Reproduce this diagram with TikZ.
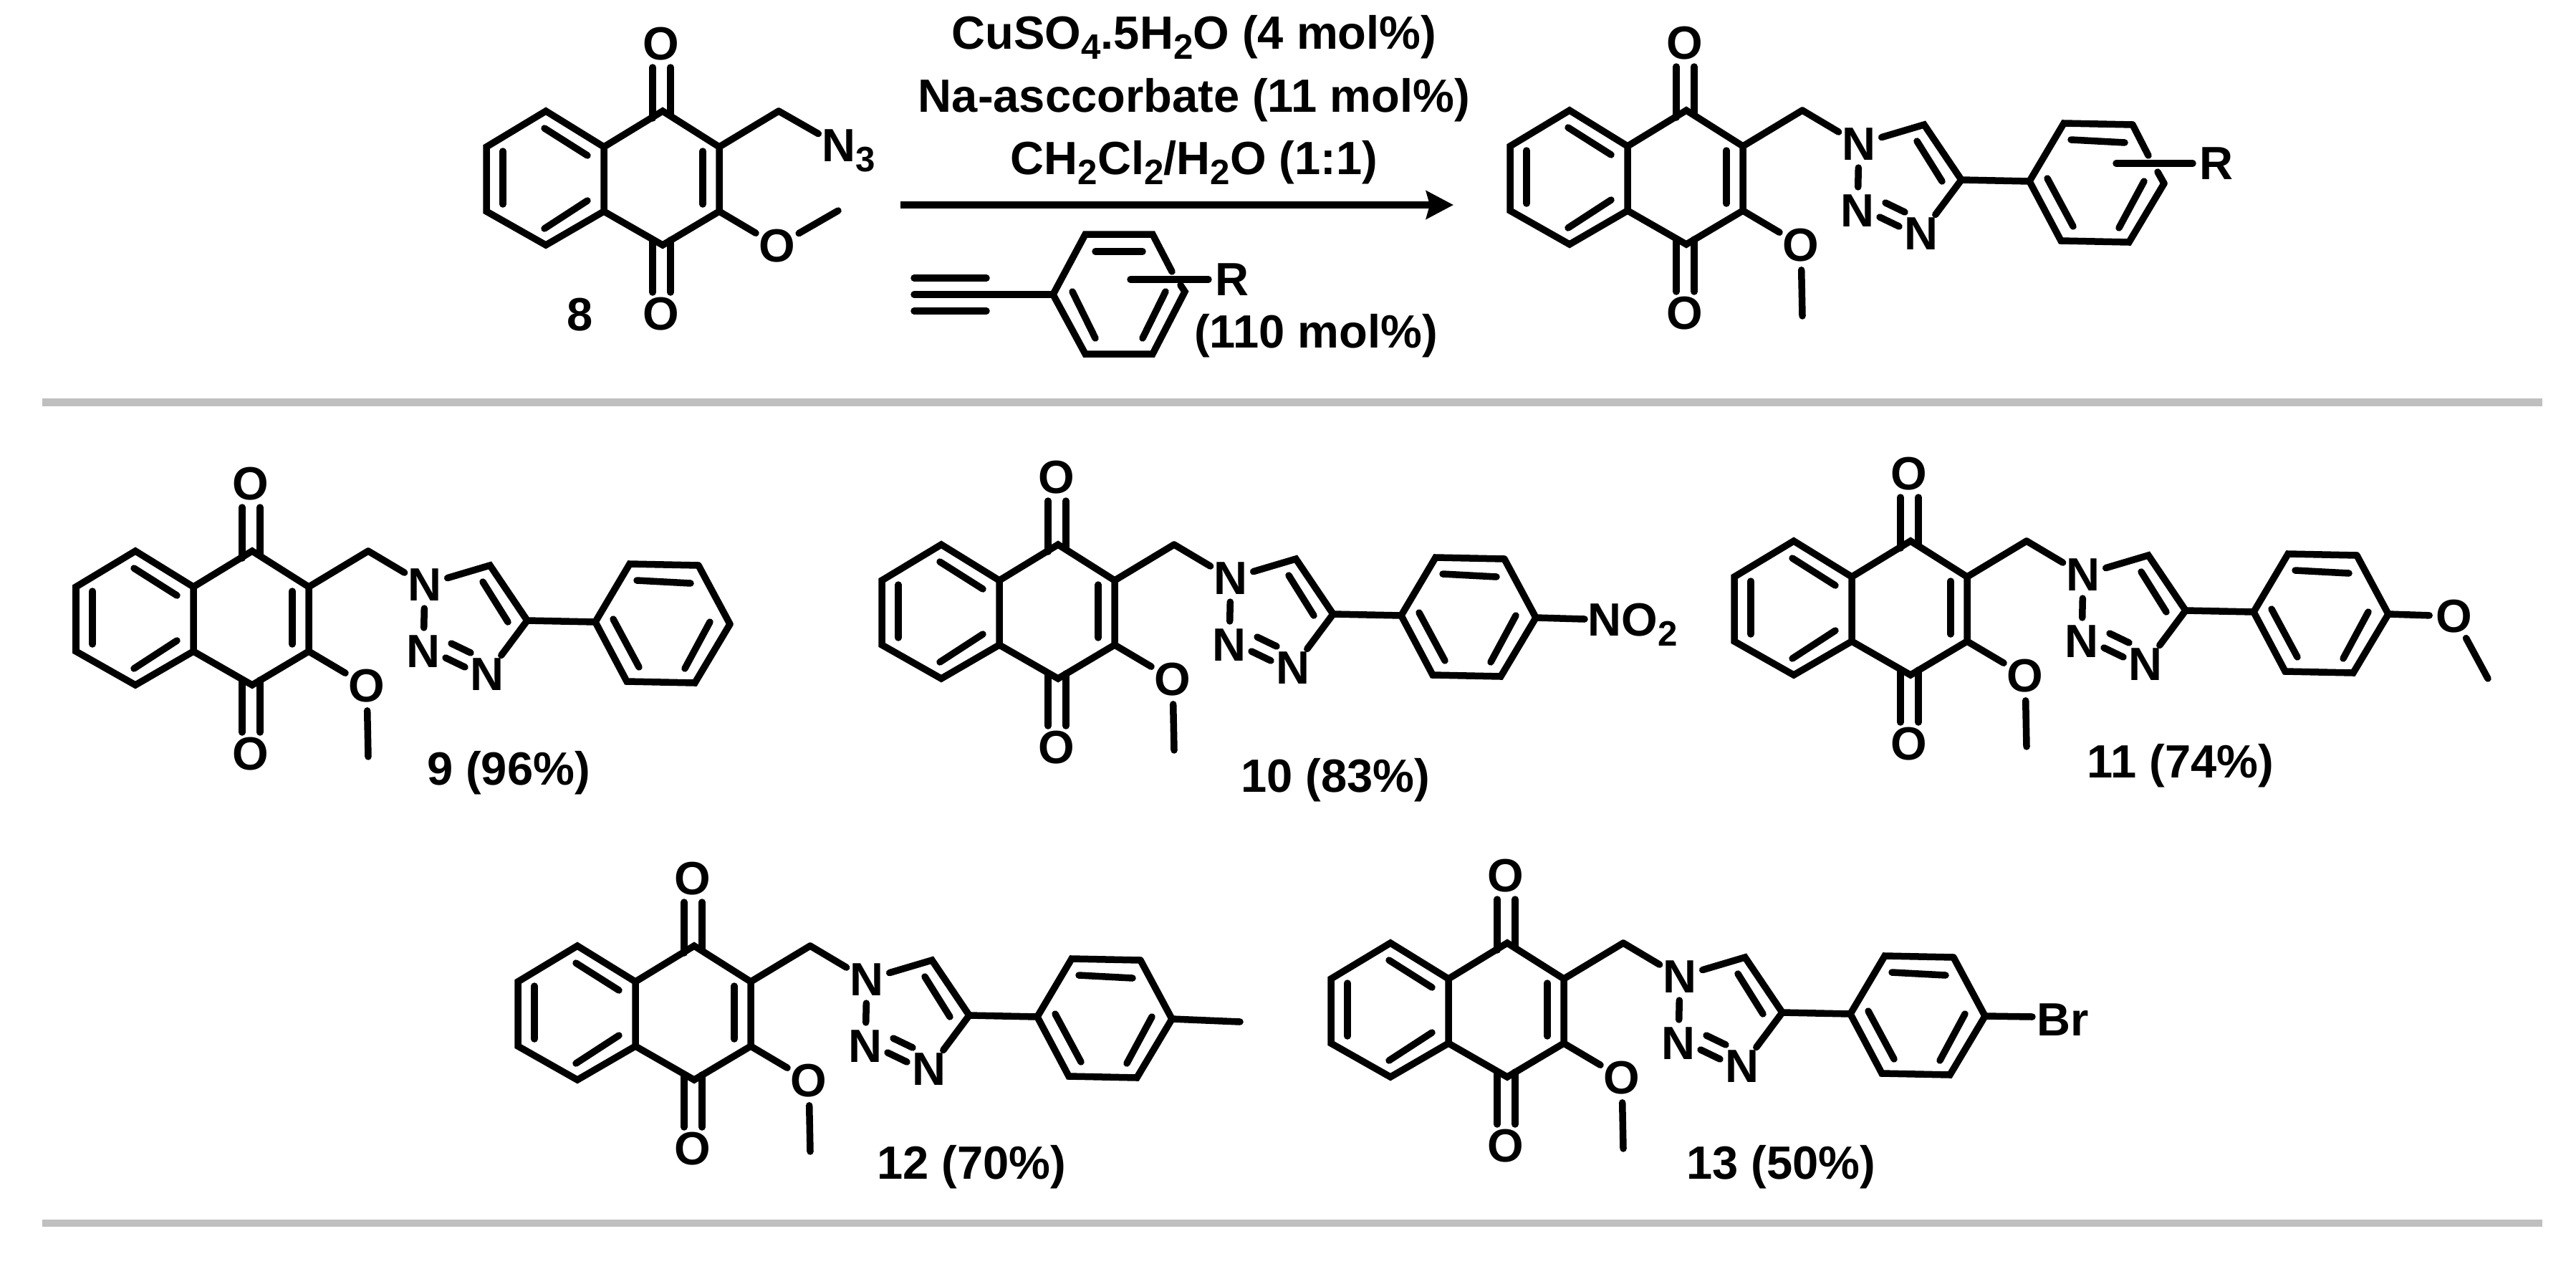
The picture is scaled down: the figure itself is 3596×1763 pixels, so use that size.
\documentclass[tikz,border=0pt]{standalone}
\usepackage{fontspec}
\setmainfont{Liberation Sans}
\usetikzlibrary{arrows.meta}
\newcommand{\sbs}[1]{\smash{\raisebox{-0.22em}{\fontsize{14}{16}\selectfont #1}}}
\newcommand{\nqbody}{%
  \coordinate (c1) at (2354,154); \coordinate (c2) at (2433,204);
  \coordinate (c3) at (2433,294); \coordinate (c4) at (2354,341);
  \coordinate (c4a) at (2272,294); \coordinate (c8a) at (2272,204);
  \coordinate (b1) at (2191,154); \coordinate (b2) at (2108,204);
  \coordinate (b3) at (2108,294); \coordinate (b4) at (2191,341);
  \coordinate (ch) at (2516,154);
  \node[atom] (ot) at (2352,60) {O};
  \node[atom] (ob) at (2352,437) {O};
  \node[atom] (om) at (2514,342) {O};
  \draw[bond] (c8a) -- (b1) -- (b2) -- (b3) -- (b4) -- (c4a) -- cycle;
  \draw[bond] (c8a) -- (c1) -- (c2) -- (c3) -- (c4) -- (c4a);
  \draw[inner] (2131,210) -- (2131,284);
  \draw[inner] (2189,178) -- (2249,216);
  \draw[inner] (2249,279) -- (2189,318);
  \draw[inner] (2410,210) -- (2410,284);
  \draw[inner] (2340,93) -- (2340,164);
  \draw[inner] (2365,93) -- (2365,160);
  \draw[inner] (2340,334) -- (2340,407);
  \draw[inner] (2365,334) -- (2365,407);
  \draw[bond] (c2) -- (ch);
  \draw[bond] (c3) -- (om);
}
\tikzset{
  atom/.style={circle,inner sep=0pt,minimum size=0.64cm,font=\fontsize{18.5}{22}\selectfont\bfseries},
  txt/.style={inner sep=0pt,anchor=base,font=\fontsize{18.5}{22}\selectfont\bfseries},
  bond/.style={line width=0.095cm,line join=miter,line cap=round},
  inner/.style={line width=0.095cm,line cap=round},
  rulebar/.style={line width=0.105cm,draw=ruleg},
  nq/.pic={\nqbody},
  qt/.pic={%
    \nqbody
    \node[atom] (n1) at (2595,201) {N};
    \node[atom] (n2) at (2593,294) {N};
    \node[atom] (n3) at (2682,326) {N};
    \coordinate (t5) at (2686,174); \coordinate (t4) at (2738,251);
    \coordinate (p1) at (2833,253); \coordinate (p2) at (2881,172);
    \coordinate (p3) at (2977,174); \coordinate (p4) at (3021,256);
    \coordinate (p5) at (2972,338); \coordinate (p6) at (2877,336);
    \coordinate (me) at (2516,441);
    \draw[bond] (ch) -- (n1);
    \draw[bond] (n1) -- (t5) -- (t4) -- (n3);
    \draw[inner] (n1) -- (n2);
    \draw[inner] (2632,283) -- (2659,296);
    \draw[inner] (2624,303) -- (2651,316);
    \draw[inner] (2676,197) -- (2711,253);
    \draw[bond] (t4) -- (p1);
    \draw[bond] (p3) -- (p2) -- (p1) -- (p6) -- (p5) -- (p4);
    \draw[inner] (2891,195) -- (2966,199);
    \draw[inner] (2858,249) -- (2894,316);
    \draw[inner] (2993,253) -- (2958,318);
    \draw[inner] (om) -- (me);
  }
}
\definecolor{ruleg}{HTML}{BFBFBF}
\begin{document}
\begin{tikzpicture}[x=0.01cm,y=-0.01cm]
\useasboundingbox (0,0) rectangle (3596,1763);
\fill[white] (0,0) rectangle (3596,1763);

% rules
\coordinate (ra) at (59,561.5); \coordinate (rb) at (3549,561.5);
\coordinate (rc) at (59,1707); \coordinate (rd) at (3549,1707);
\draw[rulebar] (ra) -- (rb);
\draw[rulebar] (rc) -- (rd);

% compound 8
\pic (m8) at (-1429,1) {nq};
\node[atom] (m8n) at (1171,203) {N\rlap{\sbs{3}}};
\coordinate (m8me) at (1170,294);
\draw[bond] (m8ch) -- (m8n);
\draw[inner] (m8om) -- (m8me);
\node[txt] (l8) at (810,461) {8};

% reagents
\node[txt] (rea1) at (1667,68) {CuSO\sbs{4}.5H\sbs{2}O (4 mol\%)};
\node[txt] (rea2) at (1667,156) {Na-asccorbate (11 mol\%)};
\node[txt] (rea3) at (1667,243) {CH\sbs{2}Cl\sbs{2}/H\sbs{2}O (1:1)};
\coordinate (arra) at (1257,286); \coordinate (arrb) at (2029,286);
\draw[line width=0.1cm,-{Stealth[length=0.38cm,width=0.39cm,inset=0.05cm]}] (arra) -- (arrb);

% alkyne reagent
\coordinate (a1) at (1470,411); \coordinate (a2) at (1515,327); \coordinate (a3) at (1609,327);
\coordinate (a4) at (1654,407); \coordinate (a5) at (1609,494); \coordinate (a6) at (1515,494);
\coordinate (ag1) at (1636,379); \coordinate (ag2) at (1648,398);
\coordinate (ya) at (1276,388); \coordinate (yb) at (1377,388);
\coordinate (yc) at (1276,411);
\coordinate (yd) at (1276,434); \coordinate (ye) at (1377,434);
\coordinate (ar) at (1578,390);
\node[atom] (rr) at (1720,390) {R};
\draw[bond] (ag1) -- (a3) -- (a2) -- (a1) -- (a6) -- (a5) -- (a4) -- (ag2);
\draw[bond] (yc) -- (a1);
\draw[bond] (ya) -- (yb);
\draw[bond] (yd) -- (ye);
\draw[inner] (1529,351) -- (1595,351);
\draw[inner] (1497,407) -- (1529,472);
\draw[inner] (1627,407) -- (1595,472);
\draw[bond] (ar) -- (rr);
\node[txt] (rea4) at (1837,485) {(110 mol\%)};

% general product
\pic (mp) at (0,0) {qt};
\coordinate (pg1) at (2999,217); \coordinate (pg2) at (3012,240); \coordinate (pr) at (2954,228);
\node[atom] (pR) at (3094,228) {R};
\draw[bond] (mpp3) -- (pg1);
\draw[bond] (pg2) -- (mpp4);
\draw[bond] (pr) -- (pR);

% 9
\pic (ma) at (-2002,615) {qt};
\draw[bond] (map3) -- (map4);
\node[txt] (l9) at (710,1095) {9 (96\%)};

% 10
\pic (mb) at (-877,606) {qt};
\draw[bond] (mbp3) -- (mbp4);
\coordinate (nb) at (2212,864);
\draw[bond] (mbp4) -- (nb);
\node[inner sep=0pt,anchor=base west,font=\fontsize{18.5}{22}\selectfont\bfseries] (no2) at (2216,887) {NO\sbs{2}};
\node[txt] (l10) at (1864,1105) {10 (83\%)};

% 11
\pic (mc) at (313,601) {qt};
\draw[bond] (mcp3) -- (mcp4);
\node[atom] (mco) at (3426,860) {O};
\coordinate (mcme) at (3473,947);
\draw[bond] (mcp4) -- (mco);
\draw[inner] (mco) -- (mcme);
\node[txt] (l11) at (3044,1085) {11 (74\%)};

% 12
\pic (md) at (-1385,1166) {qt};
\draw[bond] (mdp3) -- (mdp4);
\coordinate (mdme) at (1731,1426);
\draw[bond] (mdp4) -- (mdme);
\node[txt] (l12) at (1356,1645) {12 (70\%)};

% 13
\pic (me) at (-250,1162) {qt};
\draw[bond] (mep3) -- (mep4);
\coordinate (mebr) at (2837,1419);
\draw[bond] (mep4) -- (mebr);
\node[inner sep=0pt,anchor=base west,font=\fontsize{18.5}{22}\selectfont\bfseries] (br) at (2843,1445) {Br};
\node[txt] (l13) at (2486,1645) {13 (50\%)};
\end{tikzpicture}
\end{document}
